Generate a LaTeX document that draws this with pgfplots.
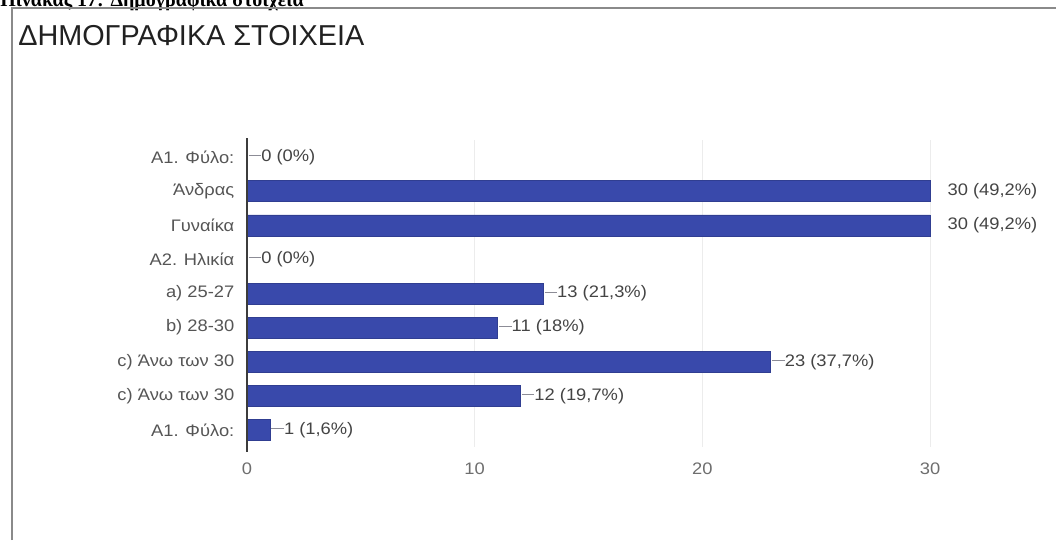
\documentclass[border=0pt]{standalone}
\usepackage{fontspec}
\setmainfont{Liberation Sans}
\newfontfamily\capfont{Liberation Serif}
\newfontfamily\lblfont{Liberation Sans}[FakeStretch=1.1]
\usepackage{pgfplots}
\pgfplotsset{compat=1.18}
\definecolor{barblue}{RGB}{57,73,171}
\definecolor{framegray}{RGB}{138,138,138}
\definecolor{titlegray}{RGB}{33,33,33}
\definecolor{tickgray}{RGB}{110,110,110}
\definecolor{labelgray}{RGB}{85,85,85}
\definecolor{valgray}{RGB}{68,68,68}
\definecolor{gridgray}{RGB}{236,236,236}
\definecolor{axisgray}{RGB}{60,60,60}
\definecolor{dashgray}{RGB}{140,140,150}
\newcommand\dsh{\textcolor{dashgray}{\rule[0.33em]{9.5pt}{0.6pt}}}
\begin{document}
\begin{tikzpicture}
\useasboundingbox (0,0) rectangle (792pt,-405pt);
\node[anchor=base west, inner sep=0, font=\capfont\bfseries\fontsize{15}{17}\selectfont] at (0pt,-5pt) {Πίνακας 17: Δημογραφικά στοιχεία};
\draw[framegray, line width=0.8pt] (9pt,-405pt) -- (9pt,-6pt) -- (792pt,-6pt);
\node[anchor=west, inner sep=0, font=\fontsize{21.6}{24}\selectfont, text=titlegray] at (13.5pt,-26.5pt) {ΔΗΜΟΓΡΑΦΙΚΑ ΣΤΟΙΧΕΙΑ};
\begin{axis}[
 at={(185.25pt,-105pt)}, anchor=north west,
 scale only axis, width=512.25pt, height=230.25pt,
 xbar, bar width=15.75pt, y dir=reverse,
 xmin=0, xmax=30, ymin=-0.5, ymax=8.5,
 xtick={0,10,20,30}, ytick={0,1,2,3,4,5,6,7,8},
 yticklabels={A1. Φύλο:, Άνδρας, Γυναίκα, A2. Ηλικία, a) 25-27, b) 28-30, c) Άνω των 30, c) Άνω των 30, A1. Φύλο:},
 axis line style={draw=none},
 major tick length=0pt,
 xmajorgrids, grid style={gridgray, line width=0.6pt},
 tick label style={font=\lblfont\fontsize{12.5}{14}\selectfont},
 xticklabel style={text=tickgray, yshift=-8pt},
 yticklabel style={text=labelgray, xshift=-6pt},
 /pgf/number format/assume math mode=true,
 point meta=explicit symbolic,
 nodes near coords, nodes near coords align={horizontal},
 every node near coord/.append style={anchor=west, inner sep=1pt, font=\lblfont\fontsize{12.5}{14}\selectfont, text=valgray},
 clip=false,
]
\addplot[fill=barblue, draw=barblue!85!black, line width=0.4pt] coordinates {
(0,0) [\dsh 0 (0\%)]
(30,1) [\hspace{12pt}30 (49,2\%)]
(30,2) [\hspace{12pt}30 (49,2\%)]
(0,3) [\dsh 0 (0\%)]
(13,4) [\dsh 13 (21,3\%)]
(11,5) [\dsh 11 (18\%)]
(23,6) [\dsh 23 (37,7\%)]
(12,7) [\dsh 12 (19,7\%)]
(1,8) [\dsh 1 (1,6\%)]
};
\draw[axisgray, line width=0.9pt] (axis cs:0,-0.55) -- (axis cs:0,8.65);
\end{axis}
\end{tikzpicture}
\end{document}
